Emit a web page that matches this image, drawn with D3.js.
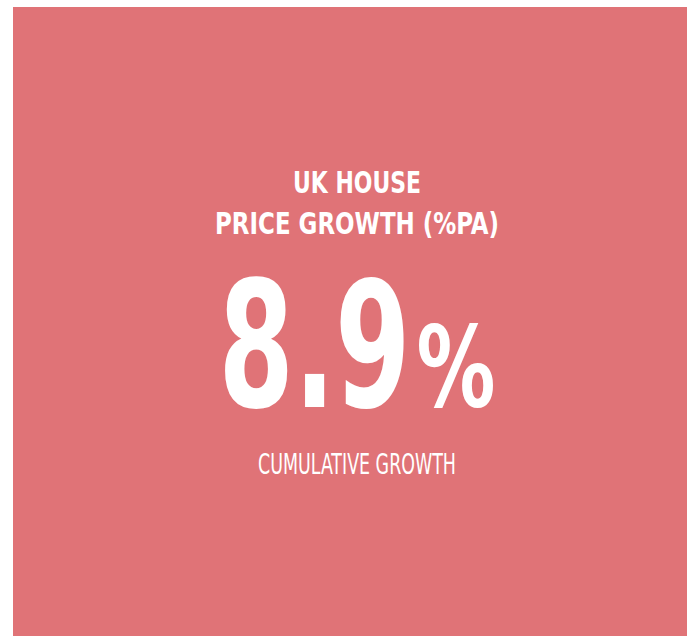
<!DOCTYPE html>
<html>
<head>
<meta charset="utf-8">
<script src="https://cdn.jsdelivr.net/npm/d3@7"></script>
<style>
  html, body { margin: 0; padding: 0; background: #ffffff; }
</style>
</head>
<body>
<div id="card"></div>
<script>
// KPI card values
const titleLines = ["UK HOUSE", "PRICE GROWTH (%PA)"];
const kpiValues = [8.9];
const kpiUnits = ["%"];
const subtitleLines = ["CUMULATIVE GROWTH"];

const width = 687;
const height = 636;
const margin = { top: 7, right: 0, bottom: 0, left: 13 };
const fontFamily = "'Liberation Sans Narrow', 'DejaVu Sans Condensed', 'Arial Narrow', sans-serif";

const svg = d3.select("#card")
    .append("svg")
    .attr("width", width)
    .attr("height", height)
    .style("display", "block");

const g = svg.append("g")
    .attr("transform", `translate(${margin.left},${margin.top})`);

const innerW = width - margin.left - margin.right;
const innerH = height - margin.top - margin.bottom;
const cx = 344;

g.append("rect")
    .attr("width", innerW)
    .attr("height", innerH)
    .attr("fill", "#e07377");

// title lines, fitted to the reference widths
const titleWidths = [128, 284];
const titleY = d3.scalePoint()
    .domain(titleLines)
    .range([186, 227]);

g.selectAll(".title")
    .data(titleLines)
    .enter()
    .append("text")
    .attr("class", "title")
    .attr("x", cx)
    .attr("y", d => titleY(d))
    .attr("text-anchor", "middle")
    .attr("font-family", fontFamily)
    .attr("font-weight", "bold")
    .attr("font-size", "30px")
    .attr("fill", "#ffffff")
    .attr("textLength", (d, i) => titleWidths[i])
    .attr("lengthAdjust", "spacingAndGlyphs")
    .text(d => d);

// fit a text to a given width by shrinking the font, then stretch it back up vertically
function fitText(parent, str, x, y, size, targetW) {
    const wrap = parent.append("g");
    const t = wrap.append("text")
        .attr("font-family", fontFamily)
        .attr("font-weight", "bold")
        .attr("font-size", size + "px")
        .attr("fill", "#ffffff")
        .text(str);
    const natural = t.node().getComputedTextLength();
    const k = natural / targetW;
    t.attr("font-size", (size / k) + "px");
    wrap.attr("transform", `translate(${x},${y}) scale(1,${k})`);
    return wrap;
}

const fmt = d3.format(".1f");
const numW = 192, gap = 6, unitW = 79;
const startX = cx - (numW + gap + unitW) / 2;

kpiValues.forEach(v => {
    fitText(g, fmt(v), startX, 400, 174, numW).attr("class", "kpi");
});
kpiUnits.forEach(u => {
    fitText(g, u, startX + numW + gap, 399, 112, unitW).attr("class", "unit");
});

// subtitle
g.selectAll(".subtitle")
    .data(subtitleLines)
    .enter()
    .append("text")
    .attr("class", "subtitle")
    .attr("x", cx)
    .attr("y", 467)
    .attr("text-anchor", "middle")
    .attr("font-family", fontFamily)
    .attr("font-weight", "normal")
    .attr("font-size", "29px")
    .attr("fill", "#ffffff")
    .attr("textLength", 198)
    .attr("lengthAdjust", "spacingAndGlyphs")
    .text(d => d);
</script>
</body>
</html>
